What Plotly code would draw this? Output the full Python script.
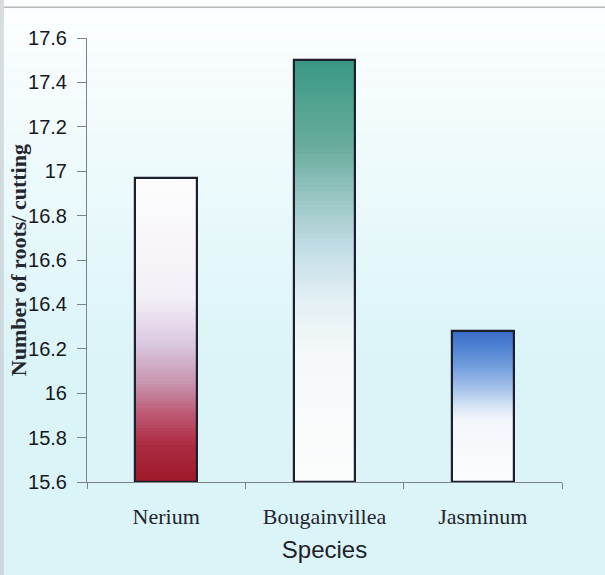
import plotly.graph_objects as go

# Mean number of roots per cutting for each species
species = ["Nerium", "Bougainvillea", "Jasminum"]
roots_per_cutting = [16.97, 17.50, 16.28]

y_min, y_max, y_step = 15.6, 17.6, 0.2

# Vertical colour ramps for each bar: (fraction of bar height, colour)
ramps = {
    "Nerium": [(0.0, "#9e1a2a"), (0.12, "#ad2c42"), (0.22, "#bd5a74"),
               (0.32, "#c894ae"), (0.45, "#dbc9e2"), (0.6, "#f3eff7"),
               (1.0, "#fdfdfd")],
    "Bougainvillea": [(0.0, "#fbfcfc"), (0.3, "#f5f9fa"), (0.43, "#e2eff4"),
                      (0.55, "#c2dde6"), (0.67, "#98c5c2"), (0.8, "#66ab9b"),
                      (1.0, "#389882")],
    "Jasminum": [(0.0, "#fbfcfd"), (0.4, "#f3f6fb"), (0.5, "#d5e3f5"),
                 (0.6, "#aac6eb"), (0.75, "#76a0df"), (0.9, "#4c7fcf"),
                 (1.0, "#386bc5")],
}


def hex_to_rgb(h):
    h = h.lstrip("#")
    return tuple(int(h[i:i + 2], 16) for i in (0, 2, 4))


def ramp_color(stops, t):
    for (t0, c0), (t1, c1) in zip(stops[:-1], stops[1:]):
        if t0 <= t <= t1:
            f = 0 if t1 == t0 else (t - t0) / (t1 - t0)
            a, b = hex_to_rgb(c0), hex_to_rgb(c1)
            return "rgb({},{},{})".format(*[round(a[k] + (b[k] - a[k]) * f) for k in range(3)])
    return stops[-1][1]


BAR_WIDTH = 0.39
N_SLICES = 90

fig = go.Figure()

# Gradient fill: overlapping slices, each running from its own base up to the bar top
for name, value in zip(species, roots_per_cutting):
    span = value - y_min
    bases = [y_min + span * i / N_SLICES for i in range(N_SLICES)]
    fig.add_trace(go.Bar(
        x=[name] * N_SLICES,
        base=bases,
        y=[value - b for b in bases],
        width=BAR_WIDTH,
        marker=dict(color=[ramp_color(ramps[name], (b - y_min) / span) for b in bases],
                    line=dict(width=0)),
        hoverinfo="skip",
        showlegend=False,
    ))

# Bar outlines
fig.add_trace(go.Bar(
    x=species,
    base=[y_min] * len(species),
    y=[v - y_min for v in roots_per_cutting],
    width=BAR_WIDTH,
    marker=dict(color="rgba(0,0,0,0)", line=dict(color="#1d1f2e", width=2.2)),
    hovertemplate="%{x}: %{customdata}<extra></extra>",
    customdata=roots_per_cutting,
    showlegend=False,
))

# Page tint: pale cyan, lighter towards the top
shapes = []
bands = 24
for i in range(bands):
    y0 = 1.1 - i * 0.035
    shapes.append(dict(type="rect", xref="paper", yref="paper",
                       x0=-0.3, x1=1.3, y0=y0 - 0.035, y1=y0,
                       fillcolor="white", opacity=max(0.0, 0.94 - i * 0.04),
                       line=dict(width=0), layer="below"))
# Left page edge and top rule
shapes.append(dict(type="rect", xref="paper", yref="paper", x0=-0.19, x1=-0.175,
                   y0=-0.3, y1=1.2, fillcolor="#c6cfd1", opacity=0.7,
                   line=dict(width=0), layer="below"))
shapes.append(dict(type="line", xref="paper", yref="paper", x0=-0.175, x1=1.2,
                   y0=1.069, y1=1.069, line=dict(color="#b4b8b9", width=1.5),
                   layer="below"))

# Vertical y-axis label placed in the left margin
y_title = "<b>Number of roots/ cutting</b>"

fig.update_layout(
    width=605, height=575,
    margin=dict(l=87, r=43, t=38, b=93),
    paper_bgcolor="#dbf4f8",
    plot_bgcolor="rgba(0,0,0,0)",
    barmode="overlay",
    bargap=0,
    shapes=shapes,
    annotations=[dict(
        text=y_title, textangle=-90, showarrow=False,
        xref="paper", yref="paper", x=-0.145, y=0.5,
        xanchor="center", yanchor="middle",
        font=dict(family="Liberation Serif", size=22, color="#25272f"),
    )],
    xaxis=dict(
        showgrid=False, zeroline=False,
        showline=True, linecolor="#7d8286", linewidth=1,
        ticks="outside", ticklen=6, tickcolor="#7d8286", tickson="boundaries",
        tickfont=dict(family="Liberation Serif", size=22, color="#23252e"),
        ticklabelstandoff=15,
        title=dict(text="Species", standoff=12,
                   font=dict(family="Liberation Sans", size=24, color="#1f2128")),
    ),
    yaxis=dict(
        range=[y_min, y_max], dtick=y_step, tick0=y_min,
        automargin=False,
        showgrid=False, zeroline=False,
        showline=True, linecolor="#7d8286", linewidth=1,
        ticks="outside", ticklen=9, tickcolor="#7d8286",
        tickfont=dict(family="Liberation Sans", size=20, color="#15171c"),
        ticklabelstandoff=6,
    ),
)

fig.write_html("out.html")
